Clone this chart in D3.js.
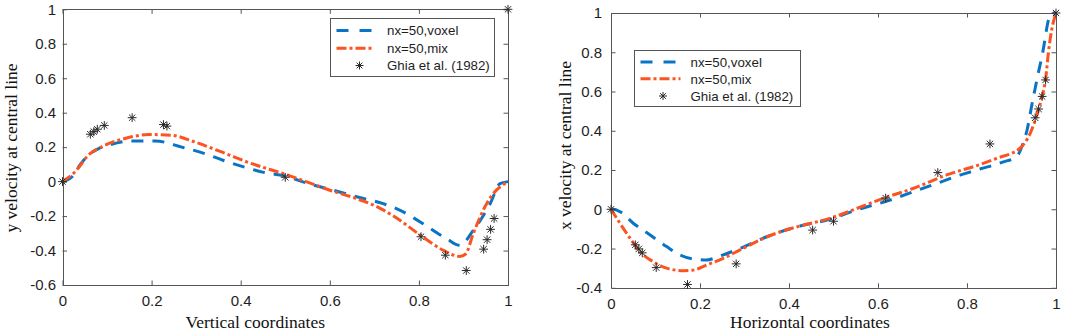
<!DOCTYPE html>
<html>
<head>
<meta charset="utf-8">
<script src="https://cdn.jsdelivr.net/npm/d3@7"></script>
<style>
  html, body { margin: 0; padding: 0; background: #fff; }
  svg { display: block; }
</style>
</head>
<body>
<svg id="chart" width="1065" height="332"></svg>
<script>
// ---- data ----
// left panel: y velocity along the horizontal central line
const leftVoxelX = [0, 0.021, 0.04, 0.058, 0.08, 0.103, 0.155, 0.208, 0.268, 0.32, 0.36, 0.41, 0.458, 0.496, 0.55, 0.608, 0.66, 0.72, 0.758, 0.803, 0.862, 0.892, 0.922, 0.96, 0.982, 1];
const leftVoxelY = [0, 0.027, 0.1, 0.153, 0.19, 0.211, 0.236, 0.236, 0.2, 0.162, 0.124, 0.083, 0.05, 0.035, -0.01, -0.05, -0.088, -0.128, -0.167, -0.234, -0.331, -0.37, -0.283, -0.128, -0.012, 0];
const leftMixX = [0, 0.028, 0.058, 0.095, 0.14, 0.193, 0.245, 0.297, 0.357, 0.425, 0.496, 0.55, 0.6, 0.65, 0.713, 0.743, 0.803, 0.855, 0.892, 0.905, 0.922, 0.952, 0.967, 1];
const leftMixY = [0, 0.056, 0.153, 0.211, 0.25, 0.273, 0.269, 0.23, 0.172, 0.104, 0.046, -0.003, -0.05, -0.09, -0.155, -0.2, -0.31, -0.399, -0.434, -0.42, -0.302, -0.128, -0.07, 0];
const leftGhiaX = [0, 0.0625, 0.0703, 0.0781, 0.0938, 0.1563, 0.2266, 0.2344, 0.5, 0.8047, 0.8594, 0.9063, 0.9453, 0.9531, 0.9609, 0.9688, 1];
const leftGhiaY = [0, 0.275, 0.29, 0.304, 0.326, 0.371, 0.331, 0.322, 0.025, -0.32, -0.427, -0.516, -0.392, -0.337, -0.277, -0.214, 1];

// right panel: x velocity along the vertical central line
const rightVoxelX = [0, 0.005, 0.02, 0.05, 0.088, 0.125, 0.155, 0.185, 0.215, 0.245, 0.29, 0.35, 0.425, 0.492, 0.55, 0.627, 0.68, 0.732, 0.784, 0.829, 0.88, 0.912, 0.925, 0.935, 0.945, 0.957, 0.971, 0.983, 0.99, 1];
const rightVoxelY = [0, 0, -0.012, -0.071, -0.131, -0.19, -0.233, -0.253, -0.258, -0.238, -0.199, -0.14, -0.085, -0.051, -0.005, 0.047, 0.09, 0.132, 0.174, 0.205, 0.24, 0.27, 0.33, 0.404, 0.523, 0.659, 0.81, 0.964, 1, 1];
const rightMixX = [0, 0.02, 0.043, 0.065, 0.095, 0.125, 0.163, 0.185, 0.215, 0.252, 0.29, 0.335, 0.38, 0.425, 0.492, 0.551, 0.612, 0.68, 0.754, 0.829, 0.867, 0.919, 0.942, 0.957, 0.967, 0.977, 0.983, 0.99, 1];
const rightMixY = [0, -0.071, -0.148, -0.216, -0.267, -0.3, -0.313, -0.31, -0.284, -0.25, -0.207, -0.156, -0.115, -0.085, -0.046, 0.003, 0.056, 0.107, 0.175, 0.228, 0.26, 0.311, 0.387, 0.48, 0.56, 0.67, 0.8, 0.91, 1];
const rightGhiaX = [0, 0.0547, 0.0625, 0.0703, 0.1016, 0.1719, 0.2813, 0.4531, 0.5, 0.6172, 0.7344, 0.8516, 0.9531, 0.9609, 0.9688, 0.9766, 1];
const rightGhiaY = [0, -0.181, -0.202, -0.222, -0.297, -0.383, -0.278, -0.106, -0.061, 0.057, 0.187, 0.333, 0.466, 0.511, 0.575, 0.659, 1];

const xTicks = [0, 0.2, 0.4, 0.6, 0.8, 1];
const leftYTicks = [-0.6, -0.4, -0.2, 0, 0.2, 0.4, 0.6, 0.8, 1];
const rightYTicks = [-0.4, -0.2, 0, 0.2, 0.4, 0.6, 0.8, 1];
const seriesNames = ['nx=50,voxel', 'nx=50,mix', 'Ghia et al. (1982)'];

// ---- styles ----
const BLUE = '#0a74c4';
const ORANGE = '#fb5420';
const AXIS = '#555';
const SANS = '"Liberation Sans", Arial, Helvetica, sans-serif';
const SERIF = '"Liberation Serif", "Times New Roman", serif';

const svg = d3.select('#chart');
const zip = (xs, ys) => xs.map((x, i) => [x, ys[i]]);
const fmt = d => String(Math.round(d * 10) / 10);

function star(g, cx, cy, r) {
    let d = 'M' + (cx - r) + ',' + cy + 'H' + (cx + r) +
        'M' + cx + ',' + (cy - r) + 'V' + (cy + r);
    let k = r * 0.72;
    d += 'M' + (cx - k) + ',' + (cy - k) + 'L' + (cx + k) + ',' + (cy + k) +
        'M' + (cx - k) + ',' + (cy + k) + 'L' + (cx + k) + ',' + (cy - k);
    g.append('path').attr('d', d)
        .attr('stroke', '#2a2a2a').attr('stroke-width', 1).attr('fill', 'none');
}

function panel(p) {
    const x = d3.scaleLinear().domain([0, 1]).range([p.left, p.right]);
    const y = d3.scaleLinear().domain(p.yDomain).range([p.bottom, p.top]);
    const g = svg.append('g');

    // axes: box with inward ticks on all four sides
    const styleAxis = sel => {
        sel.selectAll('path.domain').attr('stroke', AXIS).attr('stroke-width', 1);
        sel.selectAll('.tick line').attr('stroke', AXIS);
        sel.selectAll('.tick text').attr('fill', '#1e1e1e')
            .style('font', '15px ' + SANS);
    };
    g.append('g').attr('transform', 'translate(0,' + p.bottom + ')')
        .call(d3.axisBottom(x).tickValues(xTicks).tickFormat(fmt)
            .tickSizeInner(-4.5).tickSizeOuter(0).tickPadding(10.5))
        .call(styleAxis);
    g.append('g').attr('transform', 'translate(0,' + p.top + ')')
        .call(d3.axisTop(x).tickValues(xTicks).tickFormat('')
            .tickSizeInner(-4.5).tickSizeOuter(0))
        .call(styleAxis);
    g.append('g').attr('transform', 'translate(' + p.left + ',0)')
        .call(d3.axisLeft(y).tickValues(p.yTicks).tickFormat(fmt)
            .tickSizeInner(-4.5).tickSizeOuter(0).tickPadding(p.yPad))
        .call(styleAxis);
    g.append('g').attr('transform', 'translate(' + p.right + ',0)')
        .call(d3.axisRight(y).tickValues(p.yTicks).tickFormat('')
            .tickSizeInner(-4.5).tickSizeOuter(0))
        .call(styleAxis);
    g.selectAll('.domain').attr('shape-rendering', 'crispEdges');

    // curves
    const line = d3.line().x(d => x(d[0])).y(d => y(d[1])).curve(d3.curveMonotoneX);
    g.append('path').datum(zip(p.voxelX, p.voxelY)).attr('d', line)
        .attr('fill', 'none').attr('stroke', BLUE).attr('stroke-width', 3)
        .attr('stroke-dasharray', '12,9');
    g.append('path').datum(zip(p.mixX, p.mixY)).attr('d', line)
        .attr('fill', 'none').attr('stroke', ORANGE).attr('stroke-width', 3)
        .attr('stroke-dasharray', '10,3,3,3');

    // reference points
    const pts = g.append('g');
    zip(p.ghiaX, p.ghiaY).forEach(d => star(pts, x(d[0]), y(d[1]), 4.4));

    // axis titles
    g.append('text').attr('x', (p.left + p.right) / 2 + p.xTitleShift).attr('y', 327.5)
        .attr('text-anchor', 'middle').attr('fill', '#111')
        .style('font', '17.5px ' + SERIF).text(p.xTitle);
    g.append('text')
        .attr('transform', 'translate(' + p.yTitleX + ',' + p.yTitleY + ') rotate(-90)')
        .attr('text-anchor', 'middle').attr('fill', '#111')
        .style('font', '17.5px ' + SERIF).text(p.yTitle);

    // legend
    const L = p.legend;
    const lg = g.append('g');
    lg.append('rect').attr('x', L.x0).attr('y', L.y0)
        .attr('width', L.x1 - L.x0).attr('height', L.y1 - L.y0)
        .attr('fill', '#fff').attr('stroke', AXIS).attr('stroke-width', 1)
        .attr('shape-rendering', 'crispEdges');
    lg.append('line').attr('x1', L.lx0).attr('x2', L.lx1).attr('y1', L.rows[0]).attr('y2', L.rows[0])
        .attr('stroke', BLUE).attr('stroke-width', 3).attr('stroke-dasharray', '12,11');
    lg.append('line').attr('x1', L.lx0).attr('x2', L.lx1).attr('y1', L.rows[1]).attr('y2', L.rows[1])
        .attr('stroke', ORANGE).attr('stroke-width', 3).attr('stroke-dasharray', '10,3,3,3');
    star(lg, L.starX, L.rows[2], 4);
    seriesNames.forEach((name, i) => {
        lg.append('text').attr('x', L.tx).attr('y', L.rows[i]).attr('dy', '0.36em')
            .attr('fill', '#1e1e1e').style('font', '13.3px ' + SANS).text(name);
    });
}

panel({
    left: 62.5, right: 508, top: 9.3, bottom: 285,
    yDomain: [-0.6, 1], yTicks: leftYTicks, yPad: 6.5,
    voxelX: leftVoxelX, voxelY: leftVoxelY, mixX: leftMixX, mixY: leftMixY,
    ghiaX: leftGhiaX, ghiaY: leftGhiaY,
    xTitle: 'Vertical coordinates', xTitleShift: -30,
    yTitle: 'y velocity at central line', yTitleX: 17, yTitleY: 148,
    legend: { x0: 330.5, x1: 494, y0: 18.5, y1: 76.5, lx0: 336.5, lx1: 372, starX: 359.5, tx: 387, rows: [30.5, 48.3, 65.5] }
});

panel({
    left: 611, right: 1056, top: 13, bottom: 287.8,
    yDomain: [-0.4, 1], yTicks: rightYTicks, yPad: 9,
    voxelX: rightVoxelX, voxelY: rightVoxelY, mixX: rightMixX, mixY: rightMixY,
    ghiaX: rightGhiaX, ghiaY: rightGhiaY,
    xTitle: 'Horizontal coordinates', xTitleShift: -23.5,
    yTitle: 'x velocity at central line', yTitleX: 570.5, yTitleY: 145.5,
    legend: { x0: 634, x1: 800, y0: 50.5, y1: 106, lx0: 640.5, lx1: 680.5, starX: 663, tx: 690.5, rows: [62, 78.8, 96] }
});
</script>
</body>
</html>
